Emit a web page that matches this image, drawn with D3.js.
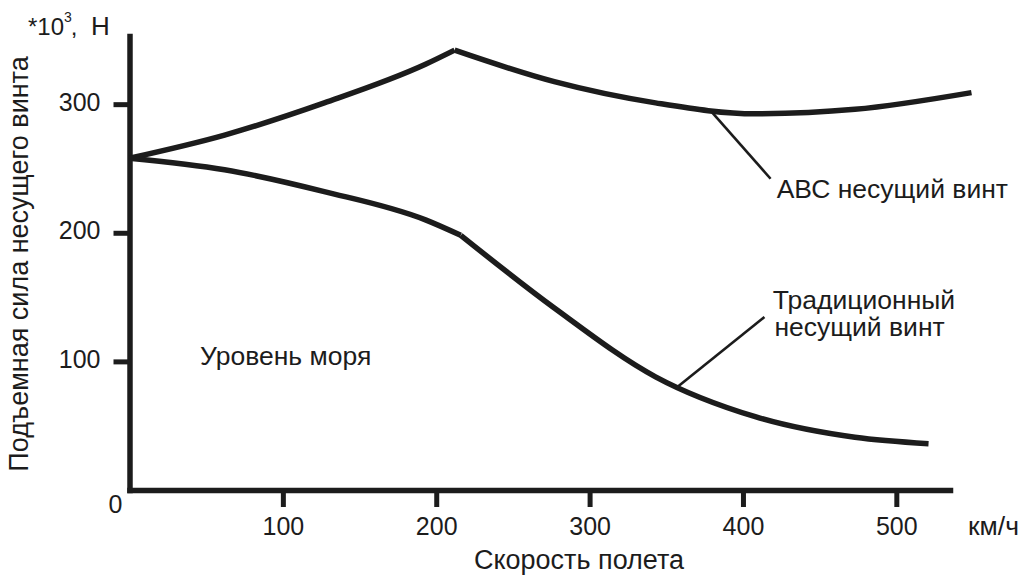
<!DOCTYPE html>
<html>
<head>
<meta charset="utf-8">
<script src="https://cdn.jsdelivr.net/npm/d3@7"></script>
<style>
  body { margin: 0; background: #fff; }
  svg { display: block; font-family: "Liberation Sans", Arial, sans-serif; }
  .axis path, .axis line { stroke: #1c1c1c; }
  .axis text { font-size: 25px; fill: #1c1c1c; font-family: "Liberation Sans", Arial, sans-serif; }
  .lbl { font-size: 26.5px; fill: #1c1c1c; }
</style>
</head>
<body>
<div id="chart"></div>
<script>
// speed, km/h and lift, *10^3 N
const abcSpeed = [0, 62, 127, 193, 212, 277, 343, 408, 473, 549];
const abcLift = [258, 276, 301, 331, 342, 317.5, 301, 292.5, 296, 309];
const abcKink = 212;

const tradSpeed = [0, 62, 127, 193, 216, 277, 343, 408, 473, 521];
const tradLift = [258, 249, 232, 210, 198, 141.5, 88, 57, 41, 36];
const tradKink = 216;

const xTicks = [100, 200, 300, 400, 500];
const yTicks = [100, 200, 300];

const width = 1024, height = 576;
const margin = { top: 36, right: 74, bottom: 86, left: 129.5 };

const svg = d3.select("#chart").append("svg")
  .attr("width", width).attr("height", height);

const x = d3.scaleLinear().domain([0, 535]).range([margin.left, width - margin.right]);
const y = d3.scaleLinear().domain([0, 353]).range([height - margin.bottom, margin.top]);

// axes
const xAxisG = svg.append("g").attr("class", "axis")
  .attr("transform", `translate(0, ${y(0)})`)
  .call(d3.axisBottom(x).tickValues(xTicks).tickSize(17).tickSizeOuter(0));
xAxisG.select(".domain").attr("stroke-width", 5.5).attr("stroke-linecap", "square");
xAxisG.selectAll(".tick line").attr("stroke-width", 5);
xAxisG.selectAll(".tick text").attr("y", 45).attr("dy", null);

const yAxisG = svg.append("g").attr("class", "axis")
  .attr("transform", `translate(${x(0)}, 0)`)
  .call(d3.axisLeft(y).tickValues(yTicks).tickSize(16).tickSizeOuter(0));
yAxisG.select(".domain").attr("stroke-width", 5.5).attr("stroke-linecap", "square");
yAxisG.selectAll(".tick line").attr("stroke-width", 5);
yAxisG.selectAll(".tick text").attr("x", -29).attr("dy", "0.24em");

svg.append("text").attr("class", "lbl").style("font-size", "25px")
  .attr("x", x(0) - 14).attr("y", y(0) + 23).attr("text-anchor", "middle").text("0");

// curves, split at the kink so the corner stays sharp
const line = d3.line().curve(d3.curveMonotoneX).x((d) => x(d[0])).y((d) => y(d[1]));

function drawCurve(speed, lift, kink) {
  const pts = d3.zip(speed, lift);
  const parts = [pts.filter((d) => d[0] <= kink), pts.filter((d) => d[0] >= kink)];
  parts.forEach((p) => {
    svg.append("path").datum(p).attr("d", line)
      .attr("fill", "none").attr("stroke", "#1c1c1c")
      .attr("stroke-width", 5.5).attr("stroke-linejoin", "round");
  });
}
drawCurve(abcSpeed, abcLift, abcKink);
drawCurve(tradSpeed, tradLift, tradKink);

// leader lines and labels (data units)
const leaders = [
  { from: [380, 293.5], to: [418, 242] },
  { from: [356, 79], to: [414, 134.5] }
];
svg.selectAll("line.leader").data(leaders).enter().append("line")
  .attr("class", "leader")
  .attr("x1", (d) => x(d.from[0])).attr("y1", (d) => y(d.from[1]))
  .attr("x2", (d) => x(d.to[0])).attr("y2", (d) => y(d.to[1]))
  .attr("stroke", "#1c1c1c").attr("stroke-width", 2.6);

const notes = [
  { at: [422, 227], text: "АВС несущий винт" },
  { at: [419.5, 141], text: "Традиционный" },
  { at: [420.5, 119.5], text: "несущий винт" },
  { at: [46, 97], text: "Уровень моря" }
];
svg.selectAll("text.note").data(notes).enter().append("text")
  .attr("class", "lbl note")
  .attr("x", (d) => x(d.at[0])).attr("y", (d) => y(d.at[1]))
  .text((d) => d.text);

// units and titles
const unit = svg.append("text").attr("class", "lbl").style("font-size", "24px")
  .attr("x", 28).attr("y", 35);
unit.append("tspan").text("*10");
unit.append("tspan").attr("dy", -13).style("font-size", "14px").text("3");
unit.append("tspan").attr("dx", -1).attr("dy", 13).text(",");
unit.append("tspan").attr("x", 91).style("font-size", "26px").text("Н");

svg.append("text").attr("class", "lbl").attr("x", 968).attr("y", 535).text("км/ч");

svg.append("text").attr("class", "lbl").style("font-size", "27px")
  .attr("x", 579).attr("y", 569).attr("text-anchor", "middle").text("Скорость полета");

svg.append("text").attr("class", "lbl").style("font-size", "27px")
  .attr("transform", "translate(28, 264) rotate(-90)")
  .attr("text-anchor", "middle").text("Подъемная сила несущего винта");
</script>
</body>
</html>
